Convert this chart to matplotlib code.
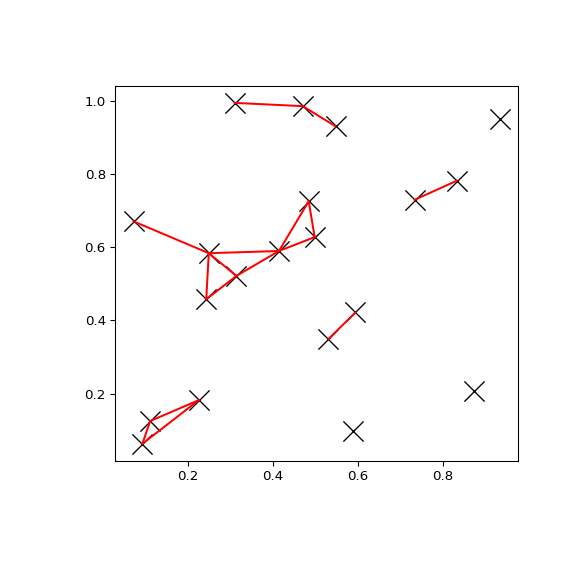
import matplotlib
matplotlib.use("Agg")
import matplotlib.pyplot as plt

# point coordinates
xs = [0.310, 0.470, 0.547, 0.934, 0.832, 0.733, 0.484, 0.498, 0.414, 0.072,
      0.249, 0.314, 0.243, 0.594, 0.530, 0.225, 0.873, 0.111, 0.588, 0.093]
ys = [0.995, 0.986, 0.931, 0.951, 0.782, 0.730, 0.726, 0.628, 0.590, 0.671,
      0.584, 0.522, 0.458, 0.422, 0.349, 0.182, 0.206, 0.125, 0.099, 0.063]

# pairs of point indices joined by red lines
edges = [(0, 1), (1, 2), (5, 4), (9, 10), (10, 8), (8, 6), (6, 7), (7, 8),
         (10, 12), (10, 11), (12, 11), (11, 8), (14, 13), (15, 17), (15, 19),
         (17, 19)]

fig = plt.figure(figsize=(6, 6), dpi=96)
ax = fig.add_axes([0.2, 0.2, 0.7, 0.651])

ax.scatter(xs, ys, marker="x", s=230, color="black", linewidths=1)

for a, b in edges:
    ax.plot([xs[a], xs[b]], [ys[a], ys[b]], color="red", lw=1.5)

fig.savefig("out.png", dpi=96)
